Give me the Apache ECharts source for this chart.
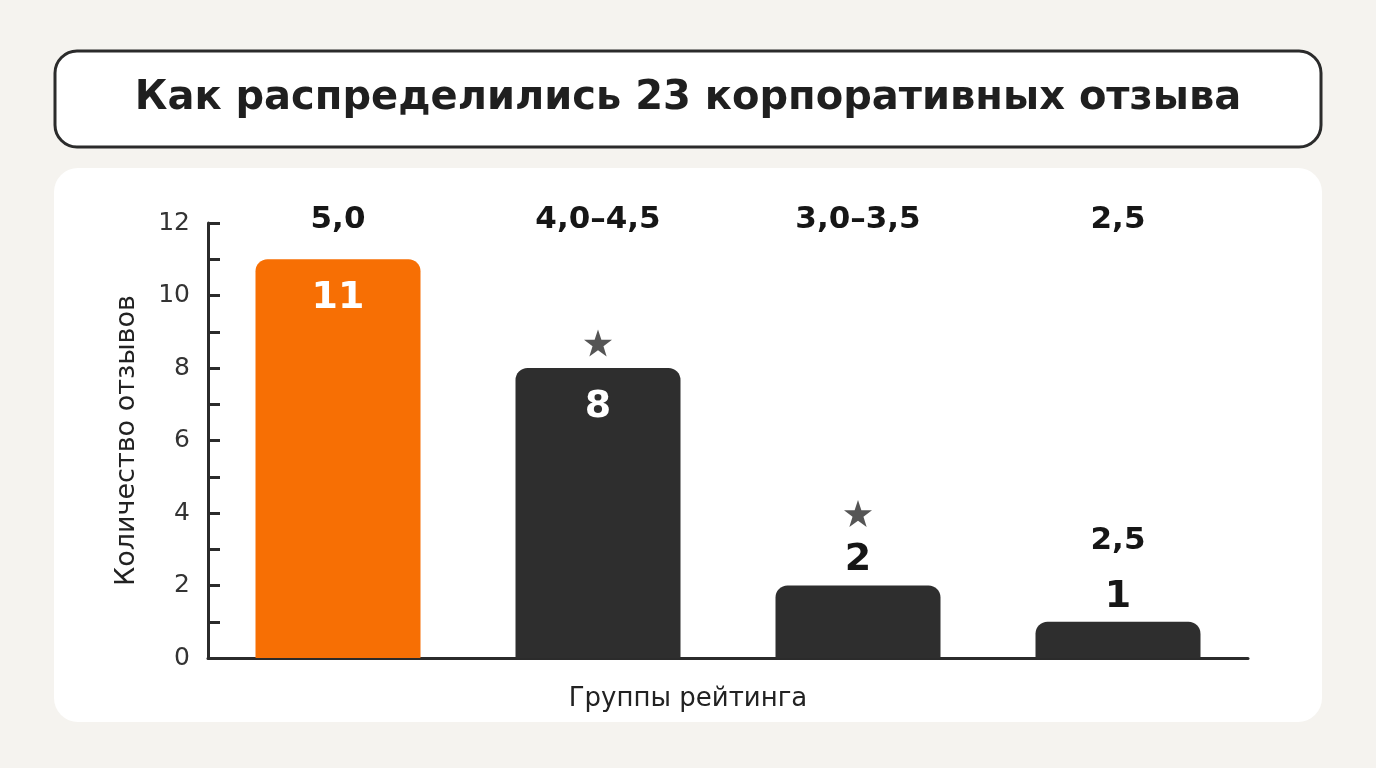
<!DOCTYPE html>
<html><head><meta charset="utf-8">
<script src="https://cdn.jsdelivr.net/npm/echarts@6/dist/echarts.min.js"></script>
<style>html,body{margin:0;padding:0;background:#f5f3ef;}#c{width:1376px;height:768px;}</style>
</head><body><div id="c"></div>
<script>
const titleText = 'Как распределились 23 корпоративных отзыва';
const categories = ['5,0', '4,0–4,5', '3,0–3,5', '2,5'];
const values = [11, 8, 2, 1];
const starred = [false, true, true, false];
const notes = ['', '', '', '2,5'];
const yTicks = [0, 2, 4, 6, 8, 10, 12];
const yName = 'Количество отзывов';
const xName = 'Группы рейтинга';

const FONT = '"DejaVu Sans", sans-serif';
const ORANGE = '#f76f04';
const DARK = '#2e2e2e';
const insideThreshold = 5;

const chart = echarts.init(document.getElementById('c'), null, {renderer: 'canvas'});

const barData = values.map((v, i) => {
  const inside = v >= insideThreshold;
  return {
    value: v,
    itemStyle: {color: i === 0 ? ORANGE : DARK},
    label: inside ? {
      show: true, position: 'insideTop', distance: 20,
      formatter: '{val|{c}}',
      rich: {val: {color: '#ffffff', fontSize: 38, fontWeight: 'bold', fontFamily: FONT, lineHeight: 38}}
    } : {
      show: true, position: 'top', distance: 6,
      formatter: notes[i] ? '{note|' + notes[i] + '}\n{val|{c}}' : '{val|{c}}',
      rich: {
        val: {color: '#161616', fontSize: 38, fontWeight: 'bold', fontFamily: FONT, lineHeight: 38},
        note: {color: '#161616', fontSize: 31, fontWeight: 'bold', fontFamily: FONT, lineHeight: 74}
      }
    }
  };
});

const starData = values.map((v, i) => starred[i] ? {
  value: [i, v],
  symbolOffset: [0, v >= insideThreshold ? -25 : -72]
} : null).filter(d => d);

const starPath = 'path://M50,0 L61.8,35.1 L98.9,35.5 L69.1,57.7 L80.2,93.1 L50,71.6 L19.8,93.1 L30.9,57.7 L1.1,35.5 L38.2,35.1 Z';

chart.setOption({
  backgroundColor: '#f5f3ef',
  animation: false,
  graphic: [
    {type: 'rect', shape: {x: 55, y: 51, width: 1266, height: 96, r: 22},
     style: {fill: '#ffffff', stroke: '#2b2b2b', lineWidth: 3}, z: 0},
    {type: 'text', left: 'center', top: 79, z: 1,
     style: {text: titleText, fontSize: 40, fontWeight: 'bold', fontFamily: FONT, fill: '#1f1f1f'}},
    {type: 'rect', shape: {x: 54, y: 168, width: 1268, height: 554, r: 24},
     style: {fill: '#ffffff'}, z: -1}
  ],
  grid: {left: 208, right: 128, top: 223, bottom: 110, containLabel: false},
  xAxis: [{
    type: 'category', data: categories, position: 'bottom',
    axisLine: {show: true, lineStyle: {color: '#2b2b2b', width: 3}},
    axisTick: {show: false},
    axisLabel: {show: false},
    name: xName, nameLocation: 'middle', nameGap: 28,
    nameTextStyle: {fontSize: 26, fontFamily: FONT, color: '#222', padding: [0, 80, 0, 0]}
  }, {
    type: 'category', data: categories, position: 'top',
    axisLine: {show: false}, axisTick: {show: false},
    axisLabel: {show: true, margin: 3, verticalAlign: 'middle', fontSize: 31, fontWeight: 'bold', fontFamily: FONT, color: '#161616'}
  }],
  yAxis: {
    type: 'value', min: 0, max: 12, interval: 2,
    axisLine: {show: true, lineStyle: {color: '#2b2b2b', width: 3}},
    axisTick: {show: true, inside: true, length: 12, lineStyle: {color: '#2b2b2b', width: 3}},
    minorTick: {show: true, splitNumber: 2, length: 12, lineStyle: {color: '#2b2b2b', width: 3}},
    splitLine: {show: false},
    axisLabel: {margin: 18, fontSize: 25, fontFamily: FONT, color: '#333',
      formatter: v => yTicks.includes(v) ? String(v) : ''},
    name: yName, nameLocation: 'middle', nameGap: 68, nameRotate: 90,
    nameTextStyle: {fontSize: 27, fontFamily: FONT, color: '#222'}
  },
  series: [{
    type: 'bar', data: barData, barWidth: 165, xAxisIndex: 0,
    itemStyle: {borderRadius: [12, 12, 0, 0]}, z: 2
  }, {
    type: 'scatter', data: starData, xAxisIndex: 0,
    symbol: starPath, symbolSize: [28, 27],
    itemStyle: {color: '#2b2b2b'}, z: 3
  }]
});
</script></body></html>
